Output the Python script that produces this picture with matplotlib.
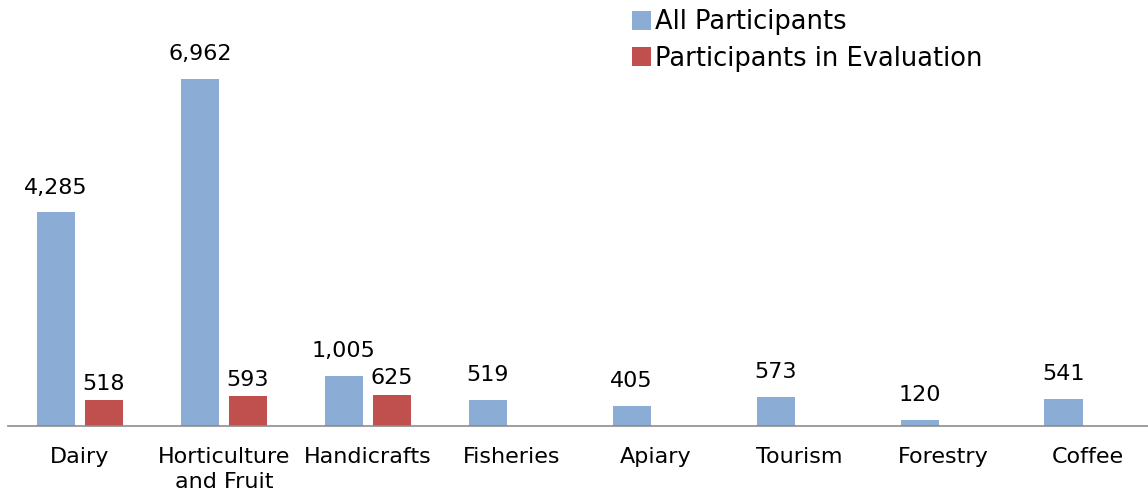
import matplotlib.pyplot as plt
import numpy as np

categories = ["Dairy", "Horticulture\nand Fruit", "Handicrafts", "Fisheries",
              "Apiary", "Tourism", "Forestry", "Coffee"]
all_participants = [4285, 6962, 1005, 519, 405, 573, 120, 541]
in_evaluation = [518, 593, 625]

blue = "#8AACD5"
red = "#C0504D"

plt.rcParams['font.family'] = ['DejaVu Sans']

fig = plt.figure(figsize=(11.48, 4.93), dpi=100)
ax = fig.add_axes([0.007, 0.136, 0.993, 0.864])

x = np.arange(len(categories))
w = 0.265
off = 0.167

b1 = ax.bar(x - off, all_participants, w, color=blue, label="All Participants")
x2 = x[:len(in_evaluation)]
b2 = ax.bar(x2 + off, in_evaluation, w, color=red, label="Participants in Evaluation")

for rect, v in zip(b1, all_participants):
    ax.text(rect.get_x() + rect.get_width() / 2, v + 300, f"{v:,}",
            ha="center", va="bottom", fontsize=16)
for rect, v in zip(b2, in_evaluation):
    ax.text(rect.get_x() + rect.get_width() / 2, v + 130, f"{v:,}",
            ha="center", va="bottom", fontsize=16)

ax.set_xlim(-0.5, 7.42)
ax.set_ylim(0, 8550)
ax.set_xticks(x)
ax.set_xticklabels(categories, fontsize=16, linespacing=1.35)
ax.tick_params(axis="x", length=0, pad=15)
ax.set_yticks([])
for s in ["top", "right", "left"]:
    ax.spines[s].set_visible(False)
ax.spines["bottom"].set_color("#8c8c8c")
ax.spines["bottom"].set_linewidth(1.2)

fig.legend(loc="upper left", bbox_to_anchor=(0.53, 1.028), frameon=False,
           fontsize=18.5, handlelength=0.75, handleheight=0.75,
           handletextpad=0.15, labelspacing=0.4)

fig.savefig("out.png", dpi=100)
